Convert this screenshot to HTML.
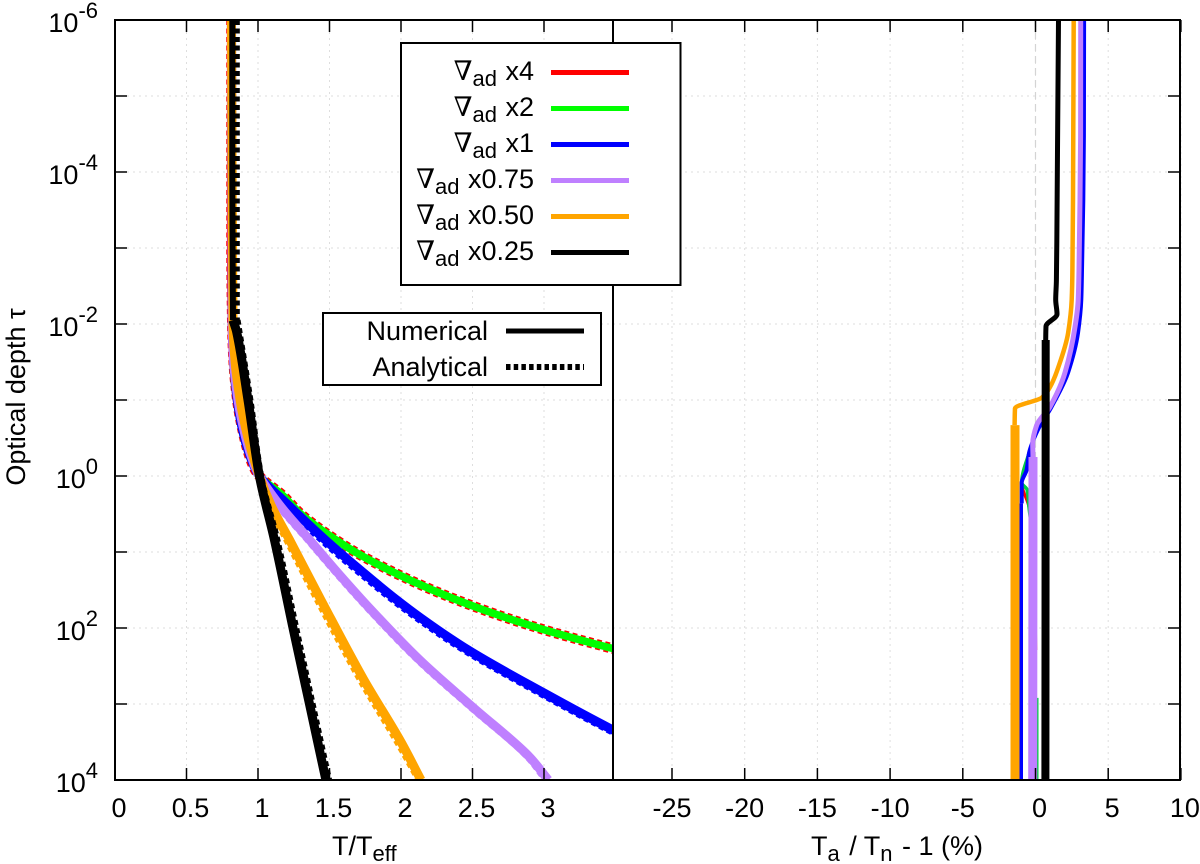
<!DOCTYPE html>
<html lang="en">
<head>
<meta charset="utf-8">
<title>Temperature profile versus optical depth</title>
<style>
html,body{margin:0;padding:0;background:#fff;width:1200px;height:864px;overflow:hidden}
svg{display:block}
text{font-family:"Liberation Sans",sans-serif;font-size:27px;fill:#000}
.sub{font-size:22px}
</style>
</head>
<body>
<svg id="chart" xmlns="http://www.w3.org/2000/svg" width="1200" height="864" viewBox="0 0 1200 864">
  <defs>
    <clipPath id="clip-left"><rect x="115" y="20" width="498" height="760"/></clipPath>
    <clipPath id="clip-right"><rect x="613" y="20" width="567" height="760"/></clipPath>
  </defs>
  <g id="grid"></g>
  <g id="left-series" clip-path="url(#clip-left)"></g>
  <g id="right-series" clip-path="url(#clip-right)"></g>
  <g id="axes"></g>

  <g>
    <rect x="401" y="43" width="279.5" height="242" fill="#fff" stroke="#000" stroke-width="2"/>
    <g><text x="534" y="80" text-anchor="end"><tspan font-family="'Liberation Serif','DejaVu Serif',serif">∇</tspan><tspan class="sub" dy="6">ad</tspan><tspan dy="-6" dx="1"> x4</tspan></text><line x1="551" x2="629" y1="72.5" y2="72.5" stroke="#ff0000" stroke-width="5"/></g>
    <g><text x="534" y="116" text-anchor="end"><tspan font-family="'Liberation Serif','DejaVu Serif',serif">∇</tspan><tspan class="sub" dy="6">ad</tspan><tspan dy="-6" dx="1"> x2</tspan></text><line x1="551" x2="629" y1="108.5" y2="108.5" stroke="#00ff00" stroke-width="5"/></g>
    <g><text x="534" y="152" text-anchor="end"><tspan font-family="'Liberation Serif','DejaVu Serif',serif">∇</tspan><tspan class="sub" dy="6">ad</tspan><tspan dy="-6" dx="1"> x1</tspan></text><line x1="551" x2="629" y1="144.5" y2="144.5" stroke="#0000ff" stroke-width="5"/></g>
    <g><text x="534" y="188" text-anchor="end"><tspan font-family="'Liberation Serif','DejaVu Serif',serif">∇</tspan><tspan class="sub" dy="6">ad</tspan><tspan dy="-6" dx="1"> x0.75</tspan></text><line x1="551" x2="629" y1="180.5" y2="180.5" stroke="#bf80ff" stroke-width="5"/></g>
    <g><text x="534" y="224" text-anchor="end"><tspan font-family="'Liberation Serif','DejaVu Serif',serif">∇</tspan><tspan class="sub" dy="6">ad</tspan><tspan dy="-6" dx="1"> x0.50</tspan></text><line x1="551" x2="629" y1="216.5" y2="216.5" stroke="#ffa500" stroke-width="5"/></g>
    <g><text x="534" y="260" text-anchor="end"><tspan font-family="'Liberation Serif','DejaVu Serif',serif">∇</tspan><tspan class="sub" dy="6">ad</tspan><tspan dy="-6" dx="1"> x0.25</tspan></text><line x1="551" x2="629" y1="252.5" y2="252.5" stroke="#000" stroke-width="5"/></g>
  </g>

  <g>
    <rect x="323" y="313" width="278" height="72" fill="#fff" stroke="#000" stroke-width="2"/>
    <g><text x="488" y="340" text-anchor="end">Numerical</text><line x1="506" x2="584" y1="331" y2="331" stroke="#000" stroke-width="5"/></g>
    <g><text x="488" y="376" text-anchor="end">Analytical</text><line x1="506" x2="584" y1="367" y2="367" stroke="#000" stroke-width="6" stroke-dasharray="4.5 3.2"/></g>
  </g>

  <text transform="translate(25,397) rotate(-90)" text-anchor="middle">Optical depth τ</text>
  <text x="332" y="855">T/T<tspan class="sub" dy="6">eff</tspan></text>
  <text x="811" y="855">T<tspan class="sub" dy="6">a</tspan><tspan dy="-6" dx="2"> / T</tspan><tspan class="sub" dy="6">n</tspan><tspan dy="-6" dx="2"> - 1 (%)</tspan></text>
</svg>
<script>
// Axis tick values and labels
const leftTicks = [0, 0.5, 1, 1.5, 2, 2.5, 3];
const leftTickLabels = ['0', '0.5', '1', '1.5', '2', '2.5', '3'];
const rightTicks = [-25, -20, -15, -10, -5, 0, 5, 10];
const rightTickLabels = ['-25', '-20', '-15', '-10', '-5', '0', '5', '10'];
const logTauTicks = [-6, -5, -4, -3, -2, -1, 0, 1, 2, 3, 4];
const logTauLabelled = [-6, -4, -2, 0, 2, 4];

// Left panel: numerical profiles, T/Teff against log10(tau)
const numX4Tau = [-6, -3, -2, -1.5, -1, -0.5, -0.14, 0, 0.25, 0.5, 0.75, 1, 1.25, 1.5, 1.75, 2, 2.26, 2.6];
const numX4T = [0.8, 0.8, 0.805, 0.815, 0.84, 0.895, 0.965, 1.01, 1.17, 1.3, 1.475, 1.68, 1.93, 2.22, 2.56, 2.96, 3.46, 4.2];
const numX2Tau = [-6, -3, -2, -1.5, -1, -0.5, -0.14, 0, 0.25, 0.5, 0.75, 1, 1.25, 1.5, 1.75, 2, 2.26, 2.6];
const numX2T = [0.815, 0.815, 0.82, 0.825, 0.85, 0.9, 0.965, 1.01, 1.17, 1.3, 1.475, 1.68, 1.93, 2.22, 2.56, 2.96, 3.46, 4.2];
const numX1Tau = [-6, -2, -1.5, -1, -0.5, -0.14, 0, 0.38, 0.84, 1.3, 1.6, 1.87, 2.29, 2.855, 3.34, 4];
const numX1T = [0.815, 0.82, 0.83, 0.855, 0.905, 0.97, 1.01, 1.21, 1.47, 1.755, 1.95, 2.14, 2.47, 3.0, 3.48, 4.2];
const numX075Tau = [-6, -2, -1.5, -1, -0.5, -0.14, 0, 0.38, 0.84, 1.3, 1.76, 2.42, 3.04, 3.7, 4];
const numX075T = [0.815, 0.82, 0.83, 0.86, 0.915, 0.975, 1.01, 1.15, 1.36, 1.57, 1.79, 2.13, 2.5, 2.9, 3.03];
const numX05Tau = [-6, -2, -1.5, -1, -0.5, 0, 0.38, 0.84, 1.63, 2.68, 3.5, 4];
const numX05T = [0.815, 0.825, 0.84, 0.875, 0.93, 1.01, 1.09, 1.22, 1.44, 1.74, 2.0, 2.14];
const numX025TopTau = [-6, -4, -2.05];
const numX025TopT = [0.82, 0.82, 0.825];
const numX025Tau = [-2.05, -1.9, -1, 0, 0.84, 2, 3, 4];
const numX025T = [0.825, 0.85, 0.93, 1.01, 1.115, 1.245, 1.36, 1.475];

// Left panel: analytical profiles
const anaX4Tau = [-6, -3, -2, -1.5, -1, -0.5, -0.14, 0, 0.25, 0.5, 0.75, 1, 1.25, 1.5, 1.75, 2, 2.26, 2.6];
const anaX4T = [0.815, 0.815, 0.82, 0.83, 0.855, 0.905, 0.965, 1.01, 1.17, 1.3, 1.475, 1.68, 1.93, 2.22, 2.56, 2.96, 3.46, 4.2];
const anaX2Tau = [-6, -3, -2, -1, -0.5, 0, 0.25, 0.5, 0.75, 1, 1.25, 1.5, 1.75, 2, 2.26, 2.6];
const anaX2T = [0.82, 0.82, 0.825, 0.855, 0.905, 1.01, 1.165, 1.295, 1.47, 1.675, 1.925, 2.215, 2.555, 2.955, 3.455, 4.19];
const anaX1Tau = [-6, -2, -1, -0.5, 0, 0.38, 0.84, 1.3, 1.6, 1.87, 2.29, 2.855, 3.34, 4];
const anaX1T = [0.825, 0.83, 0.865, 0.915, 1.01, 1.2, 1.455, 1.74, 1.935, 2.125, 2.455, 2.985, 3.465, 4.18];
const anaX075Tau = [-6, -2, -1, -0.5, 0, 0.38, 0.84, 1.3, 1.76, 2.42, 3.04, 3.7, 4];
const anaX075T = [0.825, 0.83, 0.87, 0.925, 1.01, 1.145, 1.355, 1.565, 1.785, 2.125, 2.495, 2.895, 3.02];
const anaX05Tau = [-6, -2, -1, -0.5, 0, 0.38, 0.84, 1.63, 2.68, 3.5, 4];
const anaX05T = [0.83, 0.835, 0.885, 0.935, 1.01, 1.08, 1.205, 1.42, 1.72, 1.98, 2.13];
const anaX025TopTau = [-6, -4, -2.05];
const anaX025TopT = [0.85, 0.85, 0.85];
const anaX025Tau = [-2.05, -1, 0, 0.84, 2, 3, 4];
const anaX025T = [0.85, 0.94, 1.015, 1.128, 1.26, 1.375, 1.49];

// Right panel: relative difference (%) against log10(tau)
const diffX4Tau = [-6, -4.5, -3.63, -2.71, -2.32, -1.88, -1.36, -0.91, -0.61, -0.3, 0.09, 0.41, 0.91, 2.29];
const diffX4 = [3.25, 3.24, 3.2, 3.12, 3.08, 2.86, 2.2, 1.08, 0.15, -0.45, -0.95, -0.45, -0.12, 0.02];
const diffX2Tau = [-6, -4.5, -3.63, -2.71, -2.32, -1.88, -1.36, -0.91, -0.61, -0.3, 0.09, 0.18, 0.41, 0.91, 2.29];
const diffX2 = [3.28, 3.27, 3.23, 3.15, 3.1, 2.88, 2.21, 1.09, 0.16, -0.45, -0.95, -0.58, -0.45, -0.17, -0.03];
const diffX2ThickTau = [2.92, 4];
const diffX2Thick = [-0.07, -0.07];
const diffX1Tau = [-6, -4.5, -3.63, -2.71, -2.32, -1.88, -1.36, -0.91, -0.61, -0.3, -0.08, 0.09, 0.36];
const diffX1 = [3.34, 3.33, 3.29, 3.2, 3.15, 2.92, 2.24, 1.11, 0.17, -0.45, -0.61, -0.95, -0.95];
const diffX1ThickTau = [0.36, 4];
const diffX1Thick = [-1.1, -1.1];
const diffX075Tau = [-6, -4.5, -3.63, -2.71, -2.32, -1.96, -1.36, -0.91, -0.67, -0.43, -0.25];
const diffX075 = [3.11, 3.1, 3.06, 2.99, 2.94, 2.72, 2.03, 1.0, 0.08, -0.19, -0.17];
const diffX075ThickTau = [-0.25, 4];
const diffX075Thick = [-0.17, -0.19];
const diffX05Tau = [-6, -4.95, -3.63, -2.71, -2.32, -1.88, -1.42, -1.17, -1.03, -0.89, -0.67];
const diffX05 = [2.63, 2.61, 2.58, 2.54, 2.49, 2.24, 1.55, 1.0, 0.43, -1.41, -1.44];
const diffX05ThickTau = [-0.67, 4];
const diffX05Thick = [-1.41, -1.41];
const diffX025Tau = [-6, -4.29, -2.58, -2.32, -2.13, -1.97, -1.79];
const diffX025 = [1.58, 1.51, 1.44, 1.39, 1.48, 0.72, 0.7];
const diffX025ThickTau = [-1.79, 4];
const diffX025Thick = [0.7, 0.68];

// Axis functions
function xLeft(t) { return 115 + 143 * t; }
function xRight(v) { return 1035.5 + 14.54 * v; }
function yTau(l) { return 476 + 76 * l; }

const NS = 'http://www.w3.org/2000/svg';
function make(tag, attrs, parent) {
  const el = document.createElementNS(NS, tag);
  for (const k in attrs) el.setAttribute(k, attrs[k]);
  parent.appendChild(el);
  return el;
}
// Monotone cubic path: horizontal position as a smooth function of vertical position
function curvePath(xs, ls, xf) {
  const n = xs.length;
  const px = xs.map(xf);
  const py = ls.map(yTau);
  const sec = [];
  for (let i = 0; i < n - 1; i++) sec.push((px[i + 1] - px[i]) / (py[i + 1] - py[i]));
  const m = [];
  for (let i = 0; i < n; i++) {
    if (i === 0) m.push(sec[0]);
    else if (i === n - 1) m.push(sec[n - 2]);
    else if (sec[i - 1] * sec[i] <= 0) m.push(0);
    else m.push(2 * sec[i - 1] * sec[i] / (sec[i - 1] + sec[i]));
  }
  let d = 'M' + px[0].toFixed(1) + ' ' + py[0].toFixed(1);
  for (let i = 0; i < n - 1; i++) {
    const h = (py[i + 1] - py[i]) / 3;
    d += 'C' + (px[i] + m[i] * h).toFixed(2) + ' ' + (py[i] + h).toFixed(2) + ' ' +
      (px[i + 1] - m[i + 1] * h).toFixed(2) + ' ' + (py[i + 1] - h).toFixed(2) + ' ' +
      px[i + 1].toFixed(1) + ' ' + py[i + 1].toFixed(1);
  }
  return d;
}

const gridG = document.getElementById('grid');
const axesG = document.getElementById('axes');
const leftG = document.getElementById('left-series');
const rightG = document.getElementById('right-series');

// Grid
logTauTicks.forEach(function (l) {
  const g = make('line', { x1: 115, x2: 1180, y1: yTau(l), y2: yTau(l), stroke: '#dedede', 'stroke-width': 1, 'stroke-dasharray': '2 4' }, gridG);
  
  
});
leftTicks.forEach(function (t) {
  const g = make('line', { x1: xLeft(t), x2: xLeft(t), y1: 20, y2: 780, stroke: '#dedede', 'stroke-width': 1, 'stroke-dasharray': '2 4' }, gridG);
  
  
});
rightTicks.forEach(function (v) {
  const g = make('line', { x1: xRight(v), x2: xRight(v), y1: 20, y2: 780, stroke: '#dedede', 'stroke-width': 1, 'stroke-dasharray': '2 4' }, gridG);
  
  
});
const zeroLine = make('line', { x1: xRight(0), x2: xRight(0), y1: 20, y2: 780, stroke: '#d4d4d4', 'stroke-width': 1.2, 'stroke-dasharray': '7 5' }, gridG);



// Left panel curves: analytical drawn first, numerical on top
const leftDefs = [
  ['x4', '#ff0000', anaX4T, anaX4Tau, numX4T, numX4Tau, 10.5, 5],
  ['x2', '#00ff00', anaX2T, anaX2Tau, numX2T, numX2Tau, 7, 7.5],
  ['x1', '#0000ff', anaX1T, anaX1Tau, numX1T, numX1Tau, 9, 9],
  ['x075', '#bf80ff', anaX075T, anaX075Tau, numX075T, numX075Tau, 8.5, 9],
  ['x05', '#ffa500', anaX05T, anaX05Tau, numX05T, numX05Tau, 8, 9],
  ['x025-upper', '#000000', anaX025TopT, anaX025TopTau, numX025TopT, numX025TopTau, 6.5, 6],
  ['x025', '#000000', anaX025T, anaX025Tau, numX025T, numX025Tau, 8, 9]
];
leftDefs.forEach(function (d) {
  const a = make('path', { d: curvePath(d[2], d[3], xLeft), fill: 'none', stroke: d[1], 'stroke-width': d[6], 'stroke-dasharray': '5 3.5' }, leftG);
  
  
  const n = make('path', { d: curvePath(d[4], d[5], xLeft), fill: 'none', stroke: d[1], 'stroke-width': d[7] }, leftG);
  
  
});

// Right panel curves: thin upper branch plus thick lower branch
const rightDefs = [
  ['x4', '#ff0000', diffX4, diffX4Tau, null, null, 3, 8],
  ['x2', '#00cc44', diffX2, diffX2Tau, diffX2Thick, diffX2ThickTau, 3.5, 8],
  ['x1', '#0000ff', diffX1, diffX1Tau, diffX1Thick, diffX1ThickTau, 4, 7],
  ['x075', '#bf80ff', diffX075, diffX075Tau, diffX075Thick, diffX075ThickTau, 5, 9],
  ['x05', '#ffa500', diffX05, diffX05Tau, diffX05Thick, diffX05ThickTau, 4.5, 9],
  ['x025', '#000000', diffX025, diffX025Tau, diffX025Thick, diffX025ThickTau, 5, 8]
];
rightDefs.forEach(function (d) {
  const thin = make('path', { d: curvePath(d[2], d[3], xRight), fill: 'none', stroke: d[1], 'stroke-width': d[6] }, rightG);
  
  
  if (d[4]) {
    const thick = make('path', { d: curvePath(d[4], d[5], xRight), fill: 'none', stroke: d[1], 'stroke-width': d[7] }, rightG);
    
    
  }
});

// Ticks and labels
function xTick(px) {
  const b = make('line', { x1: px, x2: px, y1: 780, y2: 768, stroke: '#000', 'stroke-width': 1.5 }, axesG);
  
  
  const t = make('line', { x1: px, x2: px, y1: 20, y2: 32, stroke: '#000', 'stroke-width': 1.5 }, axesG);
  
  
}
leftTicks.forEach(function (v, i) {
  xTick(xLeft(v));
  const lab = make('text', { x: xLeft(v) + 4, y: 817, 'text-anchor': 'middle' }, axesG);
  lab.textContent = leftTickLabels[i];
  
  
});
rightTicks.forEach(function (v, i) {
  xTick(xRight(v));
  const lab = make('text', { x: xRight(v) + (v < 0 ? 0 : 4), y: 817, 'text-anchor': 'middle' }, axesG);
  lab.textContent = rightTickLabels[i];
  
  
});
logTauTicks.forEach(function (l) {
  const a = make('line', { x1: 115, x2: 127, y1: yTau(l), y2: yTau(l), stroke: '#000', 'stroke-width': 1.5 }, axesG);
  
  
  const b = make('line', { x1: 1168, x2: 1180, y1: yTau(l), y2: yTau(l), stroke: '#000', 'stroke-width': 1.5 }, axesG);
  
  
});
logTauLabelled.forEach(function (l) {
  const lab = make('text', { x: 98, y: yTau(l) + 12, 'text-anchor': 'end' }, axesG);
  const base = make('tspan', {}, lab);
  base.textContent = '10';
  const sup = make('tspan', { dy: -14, 'font-size': 22, style: 'font-size:22px' }, lab);
  sup.textContent = String(l);
  
  
});

// Frame and panel divider
const frame = make('rect', { x: 115, y: 20, width: 1065, height: 760, fill: 'none', stroke: '#000', 'stroke-width': 2 }, axesG);


const divider = make('line', { x1: 613, x2: 613, y1: 20, y2: 780, stroke: '#000', 'stroke-width': 2 }, axesG);


</script>
</body>
</html>
